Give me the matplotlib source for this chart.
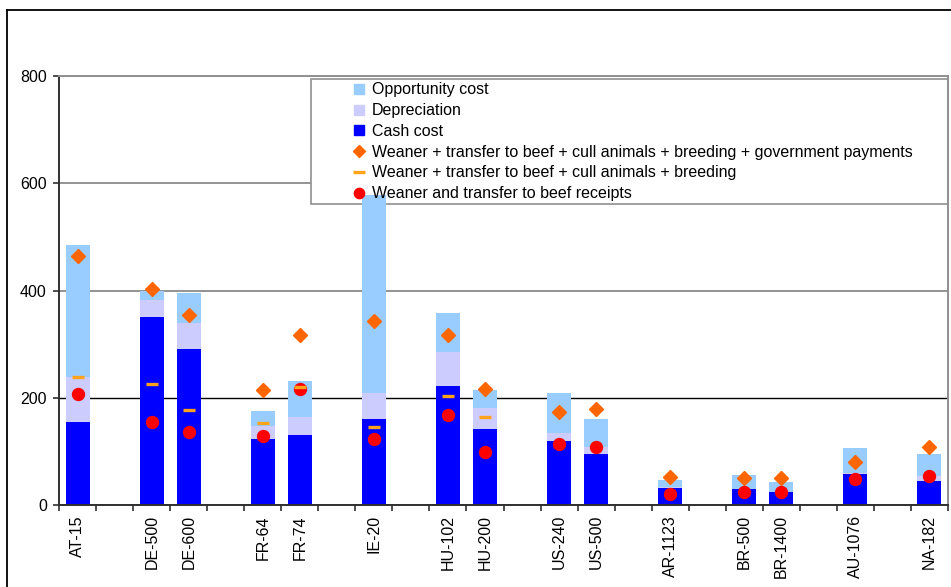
import numpy as np
import matplotlib
matplotlib.use("Agg")
import matplotlib.pyplot as plt
from matplotlib.lines import Line2D
from matplotlib.patches import Rectangle

plt.rcParams["font.family"] = ["Liberation Sans", "DejaVu Sans"]
plt.rcParams["font.size"] = 11.5

nan = np.nan

# blank entries are the empty slots between country groups
categories = ["AT-15", "", "DE-500", "DE-600", "", "FR-64", "FR-74", "", "IE-20", "",
              "HU-102", "HU-200", "", "US-240", "US-500", "", "AR-1123", "",
              "BR-500", "BR-1400", "", "AU-1076", "", "NA-182"]

cash_cost = [156, nan, 351, 291, nan, 124, 130, nan, 160, nan,
             223, 143, nan, 120, 95, nan, 33, nan, 30, 24, nan, 59, nan, 46]
depreciation = [82, nan, 32, 49, nan, 24, 35, nan, 50, nan,
                63, 39, nan, 15, 13, nan, 1, nan, 1, 1, nan, 2, nan, 9]
opportunity_cost = [247, nan, 16, 56, nan, 28, 67, nan, 367, nan,
                    72, 33, nan, 75, 52, nan, 14, nan, 26, 19, nan, 45, nan, 41]

receipts_gov = [464, nan, 402, 355, nan, 215, 318, nan, 344, nan,
                318, 216, nan, 173, 179, nan, 52, nan, 50, 50, nan, 81, nan, 108]
receipts_breeding = [238, nan, 225, 177, nan, 154, 221, nan, 145, nan,
                     203, 165, nan, nan, nan, nan, nan, nan, nan, nan, nan, nan, nan, nan]
receipts_weaner = [207, nan, 155, 137, nan, 129, 216, nan, 123, nan,
                   168, 100, nan, 115, 108, nan, 21, nan, 25, 25, nan, 49, nan, 55]

labels = ["Opportunity cost", "Depreciation", "Cash cost",
          "Weaner + transfer to beef + cull animals + breeding + government payments",
          "Weaner + transfer to beef + cull animals + breeding",
          "Weaner and transfer to beef receipts"]

c_opp, c_dep, c_cash = "#99CCFF", "#CCCCFF", "#0000FF"
c_gov, c_breed, c_weaner = "#FF6600", "#FFA319", "#FF0000"

x = np.arange(len(categories))
cash = np.array(cash_cost, dtype=float)
dep = np.array(depreciation, dtype=float)
opp = np.array(opportunity_cost, dtype=float)

fig = plt.figure(figsize=(9.51, 5.87), dpi=100)
ax = fig.add_axes([0.0624, 0.1392, 0.9341, 0.7318])

w = 0.65
ax.bar(x, cash, w, color=c_cash, zorder=2)
ax.bar(x, dep, w, bottom=cash, color=c_dep, zorder=2)
ax.bar(x, opp, w, bottom=cash + dep, color=c_opp, zorder=2)

ax.plot(x, receipts_gov, ls="none", marker="D", ms=7.6, color=c_gov, mec=c_gov, zorder=3)
ax.plot(x, receipts_weaner, ls="none", marker="o", ms=8.6, color=c_weaner, mec=c_weaner, zorder=3)
ax.plot(x, receipts_breeding, ls="none", marker="_", ms=8.6, mew=2.4, color=c_breed, zorder=4)

ax.set_xlim(-0.5, len(categories) - 0.5)
ax.set_ylim(0, 800)
ax.set_yticks([0, 200, 400, 600, 800])
ax.set_xticks(x)
ax.set_xticklabels(categories, rotation=90)
ax.set_xticks(np.arange(len(categories) + 1) - 0.5, minor=True)
ax.tick_params(axis="x", which="major", length=0, pad=7)
ax.tick_params(axis="x", which="minor", length=4, width=1.2, color="#303030")
ax.tick_params(axis="y", length=4, width=1.2, color="#303030", pad=5)

ax.set_axisbelow(True)
ax.yaxis.grid(True, color="#808080", lw=1.2, zorder=0.5)
for val, gl in zip(ax.get_yticks(), ax.get_ygridlines()):
    if val == 200:
        gl.set_color("black")
        gl.set_linewidth(1.0)

for side in ["left", "bottom"]:
    ax.spines[side].set_color("#303030")
    ax.spines[side].set_linewidth(1.4)
for side in ["top", "right"]:
    ax.spines[side].set_color("#909090")
    ax.spines[side].set_linewidth(1.4)

handles = [
    Line2D([], [], ls="none", marker="s", ms=6.7, color=c_opp),
    Line2D([], [], ls="none", marker="s", ms=6.7, color=c_dep),
    Line2D([], [], ls="none", marker="s", ms=6.7, color=c_cash),
    Line2D([], [], ls="none", marker="D", ms=6.2, color=c_gov),
    Line2D([], [], ls="none", marker="_", ms=8.4, mew=2.4, color=c_breed),
    Line2D([], [], ls="none", marker="o", ms=7.4, color=c_weaner),
]
leg = ax.legend(handles, labels, loc="upper left", bbox_to_anchor=(0.283, 0, 0.717, 0.992),
                mode="expand", borderaxespad=0, borderpad=0.2, labelspacing=0.36,
                handlelength=5.6, handletextpad=-1.95, frameon=False, fontsize=11.5)
leg.set_zorder(5)

# white legend box drawn under the bars, as in the original
fig.canvas.draw()
bb = leg.get_window_extent().transformed(ax.transAxes.inverted())
ax.add_patch(Rectangle((bb.x0, bb.y0), bb.width, bb.height, transform=ax.transAxes,
                       facecolor="white", edgecolor="#909090", lw=1.2, zorder=1.5))

# chart area border
fig.add_artist(Line2D([6.5 / 951, 6.5 / 951], [0, 1 - 9.5 / 587], transform=fig.transFigure,
                      color="black", lw=1.3))
fig.add_artist(Line2D([6.5 / 951, 1], [1 - 9.5 / 587, 1 - 9.5 / 587], transform=fig.transFigure,
                      color="black", lw=1.3))

fig.savefig("out.png", dpi=100)
